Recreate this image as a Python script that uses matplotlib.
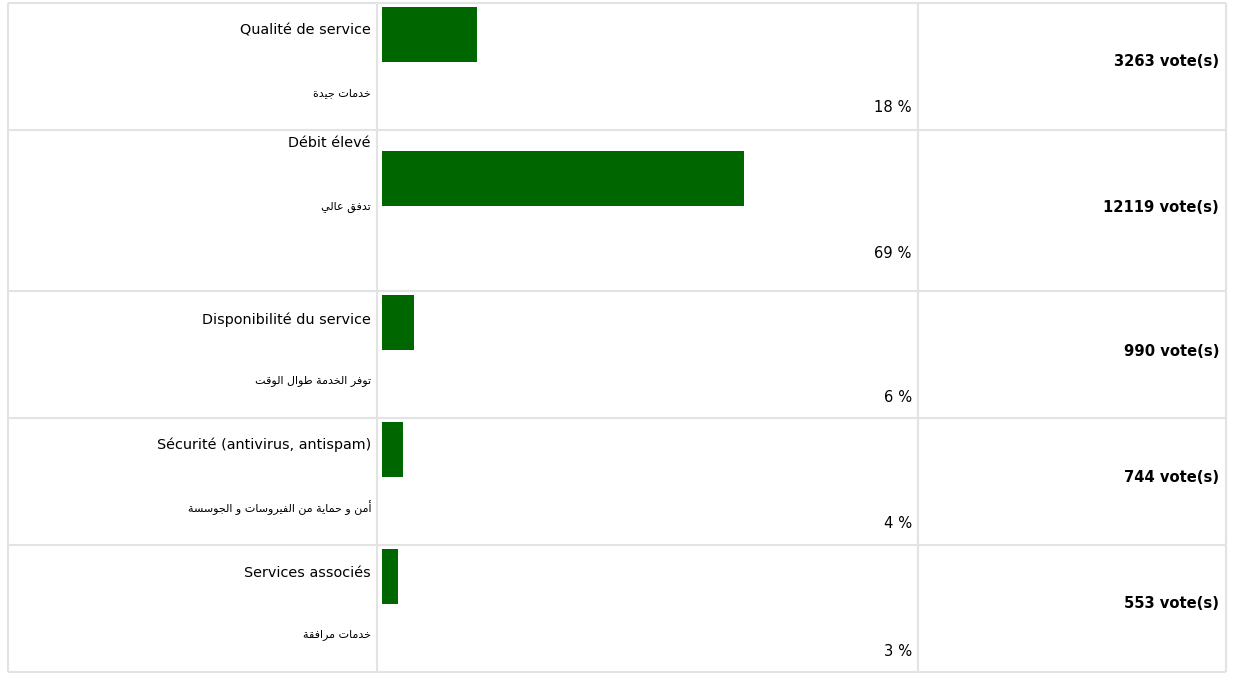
import numpy as np
import matplotlib
matplotlib.use("Agg")
import matplotlib.pyplot as plt

# Poll results: one row per answer
labels_fr = ["Qualité de service", "Débit élevé", "Disponibilité du service",
             "Sécurité (antivirus, antispam)", "Services associés"]
labels_ar = ["خدمات جيدة", "تدفق عالي", "توفر الخدمة طوال الوقت",
             "أمن و حماية من الفيروسات و الجوسسة", "خدمات مرافقة"]
percents = [18, 69, 6, 4, 3]
votes = [3263, 12119, 990, 744, 553]

# Arabic presentation forms: (isolated, final, initial, medial)
FORMS = {
    "ا": ("\ufe8d", "\ufe8e"), "أ": ("\ufe83", "\ufe84"),
    "ة": ("\ufe93", "\ufe94"), "د": ("\ufea9", "\ufeaa"),
    "ر": ("\ufead", "\ufeae"), "و": ("\ufeed", "\ufeee"),
    "ت": ("\ufe95", "\ufe96", "\ufe97", "\ufe98"),
    "ج": ("\ufe9d", "\ufe9e", "\ufe9f", "\ufea0"),
    "ح": ("\ufea1", "\ufea2", "\ufea3", "\ufea4"),
    "خ": ("\ufea5", "\ufea6", "\ufea7", "\ufea8"),
    "س": ("\ufeb1", "\ufeb2", "\ufeb3", "\ufeb4"),
    "ط": ("\ufec1", "\ufec2", "\ufec3", "\ufec4"),
    "ع": ("\ufec9", "\ufeca", "\ufecb", "\ufecc"),
    "ف": ("\ufed1", "\ufed2", "\ufed3", "\ufed4"),
    "ق": ("\ufed5", "\ufed6", "\ufed7", "\ufed8"),
    "ل": ("\ufedd", "\ufede", "\ufedf", "\ufee0"),
    "م": ("\ufee1", "\ufee2", "\ufee3", "\ufee4"),
    "ن": ("\ufee5", "\ufee6", "\ufee7", "\ufee8"),
    "ي": ("\ufef1", "\ufef2", "\ufef3", "\ufef4"),
}


def shape_arabic(text):
    """Join letters into contextual forms and put them in visual order."""
    out = []
    for i, c in enumerate(text):
        if c not in FORMS:
            out.append(c)
            continue
        prev = text[i - 1] if i > 0 else ""
        nxt = text[i + 1] if i + 1 < len(text) else ""
        join_prev = prev in FORMS and len(FORMS[prev]) == 4
        join_next = len(FORMS[c]) == 4 and nxt in FORMS
        f = FORMS[c]
        if join_prev and join_next:
            out.append(f[3])
        elif join_prev:
            out.append(f[1])
        elif join_next:
            out.append(f[2])
        else:
            out.append(f[0])
    return "".join(reversed(out))


W, H = 1239, 675
fig = plt.figure(figsize=(W / 100, H / 100), dpi=100)
ax = fig.add_axes([0, 0, 1, 1])
ax.set_xlim(0, W)
ax.set_ylim(H, 0)
ax.axis("off")

# table grid (pixel layout)
row_edges = [3, 129.5, 291, 418, 545, 672]
col_edges = [7.5, 377, 917.5, 1225.5]
grid = "#e3e3e3"
ax.hlines(row_edges, col_edges[0], col_edges[-1], color=grid, lw=1.5)
ax.vlines(col_edges, row_edges[0], row_edges[-1], color=grid, lw=1.5)

# per-row vertical positions
bar_y = [34.5, 178.5, 322.5, 449.5, 576]
fr_y = [30, 143, 320, 445, 573]
ar_y = [93, 207, 381, 508, 635]
pct_y = [108, 253, 397, 524, 651]
vote_y = [62, 207, 351, 478, 604]

px_per_pct = 5.25
ax.barh(bar_y, np.array(percents) * px_per_pct, left=382, height=55,
        color="#006600")

for i in range(len(labels_fr)):
    ax.text(371, fr_y[i], labels_fr[i], ha="right", va="center",
            fontsize=10.4, color="#000000", family="DejaVu Sans")
    ax.text(371, ar_y[i], shape_arabic(labels_ar[i]), ha="right",
            va="center", fontsize=8, color="#000000", family="DejaVu Sans")
    ax.text(912, pct_y[i], f"{percents[i]} %", ha="right", va="center",
            fontsize=10.6, color="#000000", family="DejaVu Sans")
    ax.text(1219, vote_y[i], f"{votes[i]} vote(s)", ha="right", va="center",
            fontsize=10.6, fontweight="bold", color="#000000",
            family="DejaVu Sans")

fig.savefig("out.png", dpi=100)
